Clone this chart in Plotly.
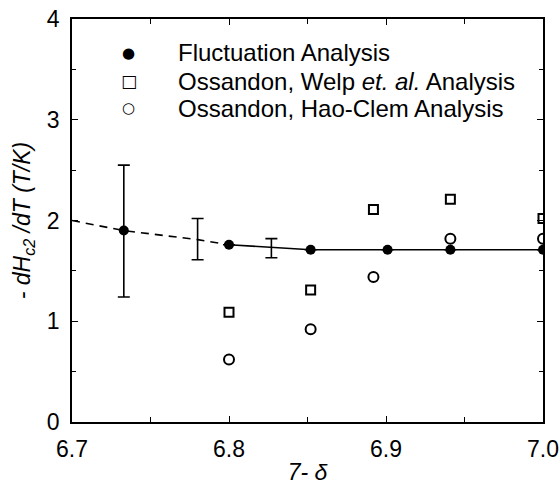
import plotly.graph_objects as go

# Fluctuation analysis points
fluc_x = [6.733, 6.8, 6.852, 6.901, 6.941, 7.0]
fluc_y = [1.90, 1.76, 1.71, 1.71, 1.71, 1.71]
fluc_err_plus = [0.65, 0.0, 0.0, 0.0, 0.0, 0.0]
fluc_err_minus = [0.66, 0.0, 0.0, 0.0, 0.0, 0.0]

# error bars without markers
eb_x = [6.780, 6.827]
eb_y = [1.80, 1.73]
eb_plus = [0.22, 0.09]
eb_minus = [0.19, 0.10]

# dashed extrapolation and solid fit lines
dash_x = [6.70, 6.733, 6.780, 6.80]
dash_y = [2.00, 1.90, 1.81, 1.76]
solid_x = [6.80, 6.852, 6.901, 6.941, 7.0]
solid_y = [1.76, 1.71, 1.71, 1.71, 1.71]

# Ossandon, Welp et al.
welp_x = [6.800, 6.852, 6.892, 6.941, 7.0]
welp_y = [1.09, 1.31, 2.11, 2.21, 2.02]

# Ossandon, Hao-Clem
hao_x = [6.800, 6.852, 6.892, 6.941, 7.0]
hao_y = [0.62, 0.92, 1.44, 1.82, 1.82]

x_ticks = [6.7, 6.8, 6.9, 7.0]
x_ticklabels = ["6.7", "6.8", "6.9", "7.0"]
y_ticks = [0, 1, 2, 3, 4]

legend_symbols = ["●", "□", "○"]
legend_labels = ["Fluctuation Analysis",
                 "Ossandon, Welp <i>et. al.</i> Analysis",
                 "Ossandon, Hao-Clem Analysis"]

FONT = "Liberation Sans, Arial, Helvetica"

fig = go.Figure()
fig.add_trace(go.Scatter(x=dash_x, y=dash_y, mode="lines",
                         line=dict(color="black", width=1.6, dash="8px,6px"),
                         showlegend=False, hoverinfo="skip"))
fig.add_trace(go.Scatter(x=solid_x, y=solid_y, mode="lines",
                         line=dict(color="black", width=1.6),
                         showlegend=False, hoverinfo="skip"))
fig.add_trace(go.Scatter(x=eb_x, y=eb_y, mode="markers",
                         marker=dict(size=1, color="rgba(0,0,0,0)"),
                         error_y=dict(type="data", array=eb_plus, arrayminus=eb_minus,
                                      color="black", thickness=1.6, width=6),
                         showlegend=False))
fig.add_trace(go.Scatter(x=fluc_x, y=fluc_y, mode="markers", name=legend_labels[0],
                         marker=dict(symbol="circle", size=10, color="black"),
                         error_y=dict(type="data", array=fluc_err_plus, arrayminus=fluc_err_minus,
                                      color="black", thickness=1.6, width=6),
                         showlegend=False))
fig.add_trace(go.Scatter(x=welp_x, y=welp_y, mode="markers", name=legend_labels[1],
                         marker=dict(symbol="square-open", size=9, color="black",
                                     line=dict(width=2, color="black")),
                         showlegend=False))
fig.add_trace(go.Scatter(x=hao_x, y=hao_y, mode="markers", name=legend_labels[2],
                         marker=dict(symbol="circle-open", size=10, color="black",
                                     line=dict(width=2, color="black")),
                         showlegend=False))

# legend drawn as text annotations (symbol + label per row)
row_y = [0.916, 0.846, 0.779]
sym_sizes = [15, 17, 15]
for sym, lab, ry, ss in zip(legend_symbols, legend_labels, row_y, sym_sizes):
    fig.add_annotation(xref="paper", yref="paper", x=0.121, y=ry, text=sym,
                       showarrow=False, xanchor="center", yanchor="middle",
                       font=dict(family="DejaVu Sans", size=ss, color="black"))
    fig.add_annotation(xref="paper", yref="paper", x=0.221, y=ry, text=lab,
                       showarrow=False, xanchor="left", yanchor="middle",
                       font=dict(family=FONT, size=24, color="black"))

axis_common = dict(
    showline=True, linecolor="black", linewidth=1.6, mirror="ticks",
    ticks="inside", ticklen=6, tickwidth=1.2, tickcolor="black",
    showgrid=False, zeroline=False, automargin=False,
    tickfont=dict(family=FONT, size=23, color="black"),
)

fig.update_xaxes(range=[6.7, 7.0], tickvals=x_ticks, ticktext=x_ticklabels,
                 ticklabelstandoff=6,
                 minor=dict(ticks="inside", dtick=0.05, ticklen=5, tickcolor="black"),
                 title=dict(text="<i>7- δ</i>", standoff=8,
                            font=dict(family=FONT, size=23, color="black")),
                 **axis_common)
fig.update_yaxes(range=[0, 4], tickvals=y_ticks,
                 ticklabelstandoff=6,
                 minor=dict(ticks="inside", dtick=0.5, ticklen=4, tickcolor="black"),
                 title=dict(text="<i>- dH<sub>c2</sub> /dT (T/K)</i>", standoff=10,
                            font=dict(family=FONT, size=23, color="black")),
                 **axis_common)

fig.update_layout(
    width=559, height=485,
    margin=dict(l=72, r=16, t=19, b=63),
    plot_bgcolor="white", paper_bgcolor="white",
    showlegend=False,
)

# remove the default 8px page margin so the figure sits at the window's corner
fig.write_html("out.html",
               config={"displayModeBar": False},
               post_script="document.body.style.margin='0px';document.body.style.overflow='hidden';")
